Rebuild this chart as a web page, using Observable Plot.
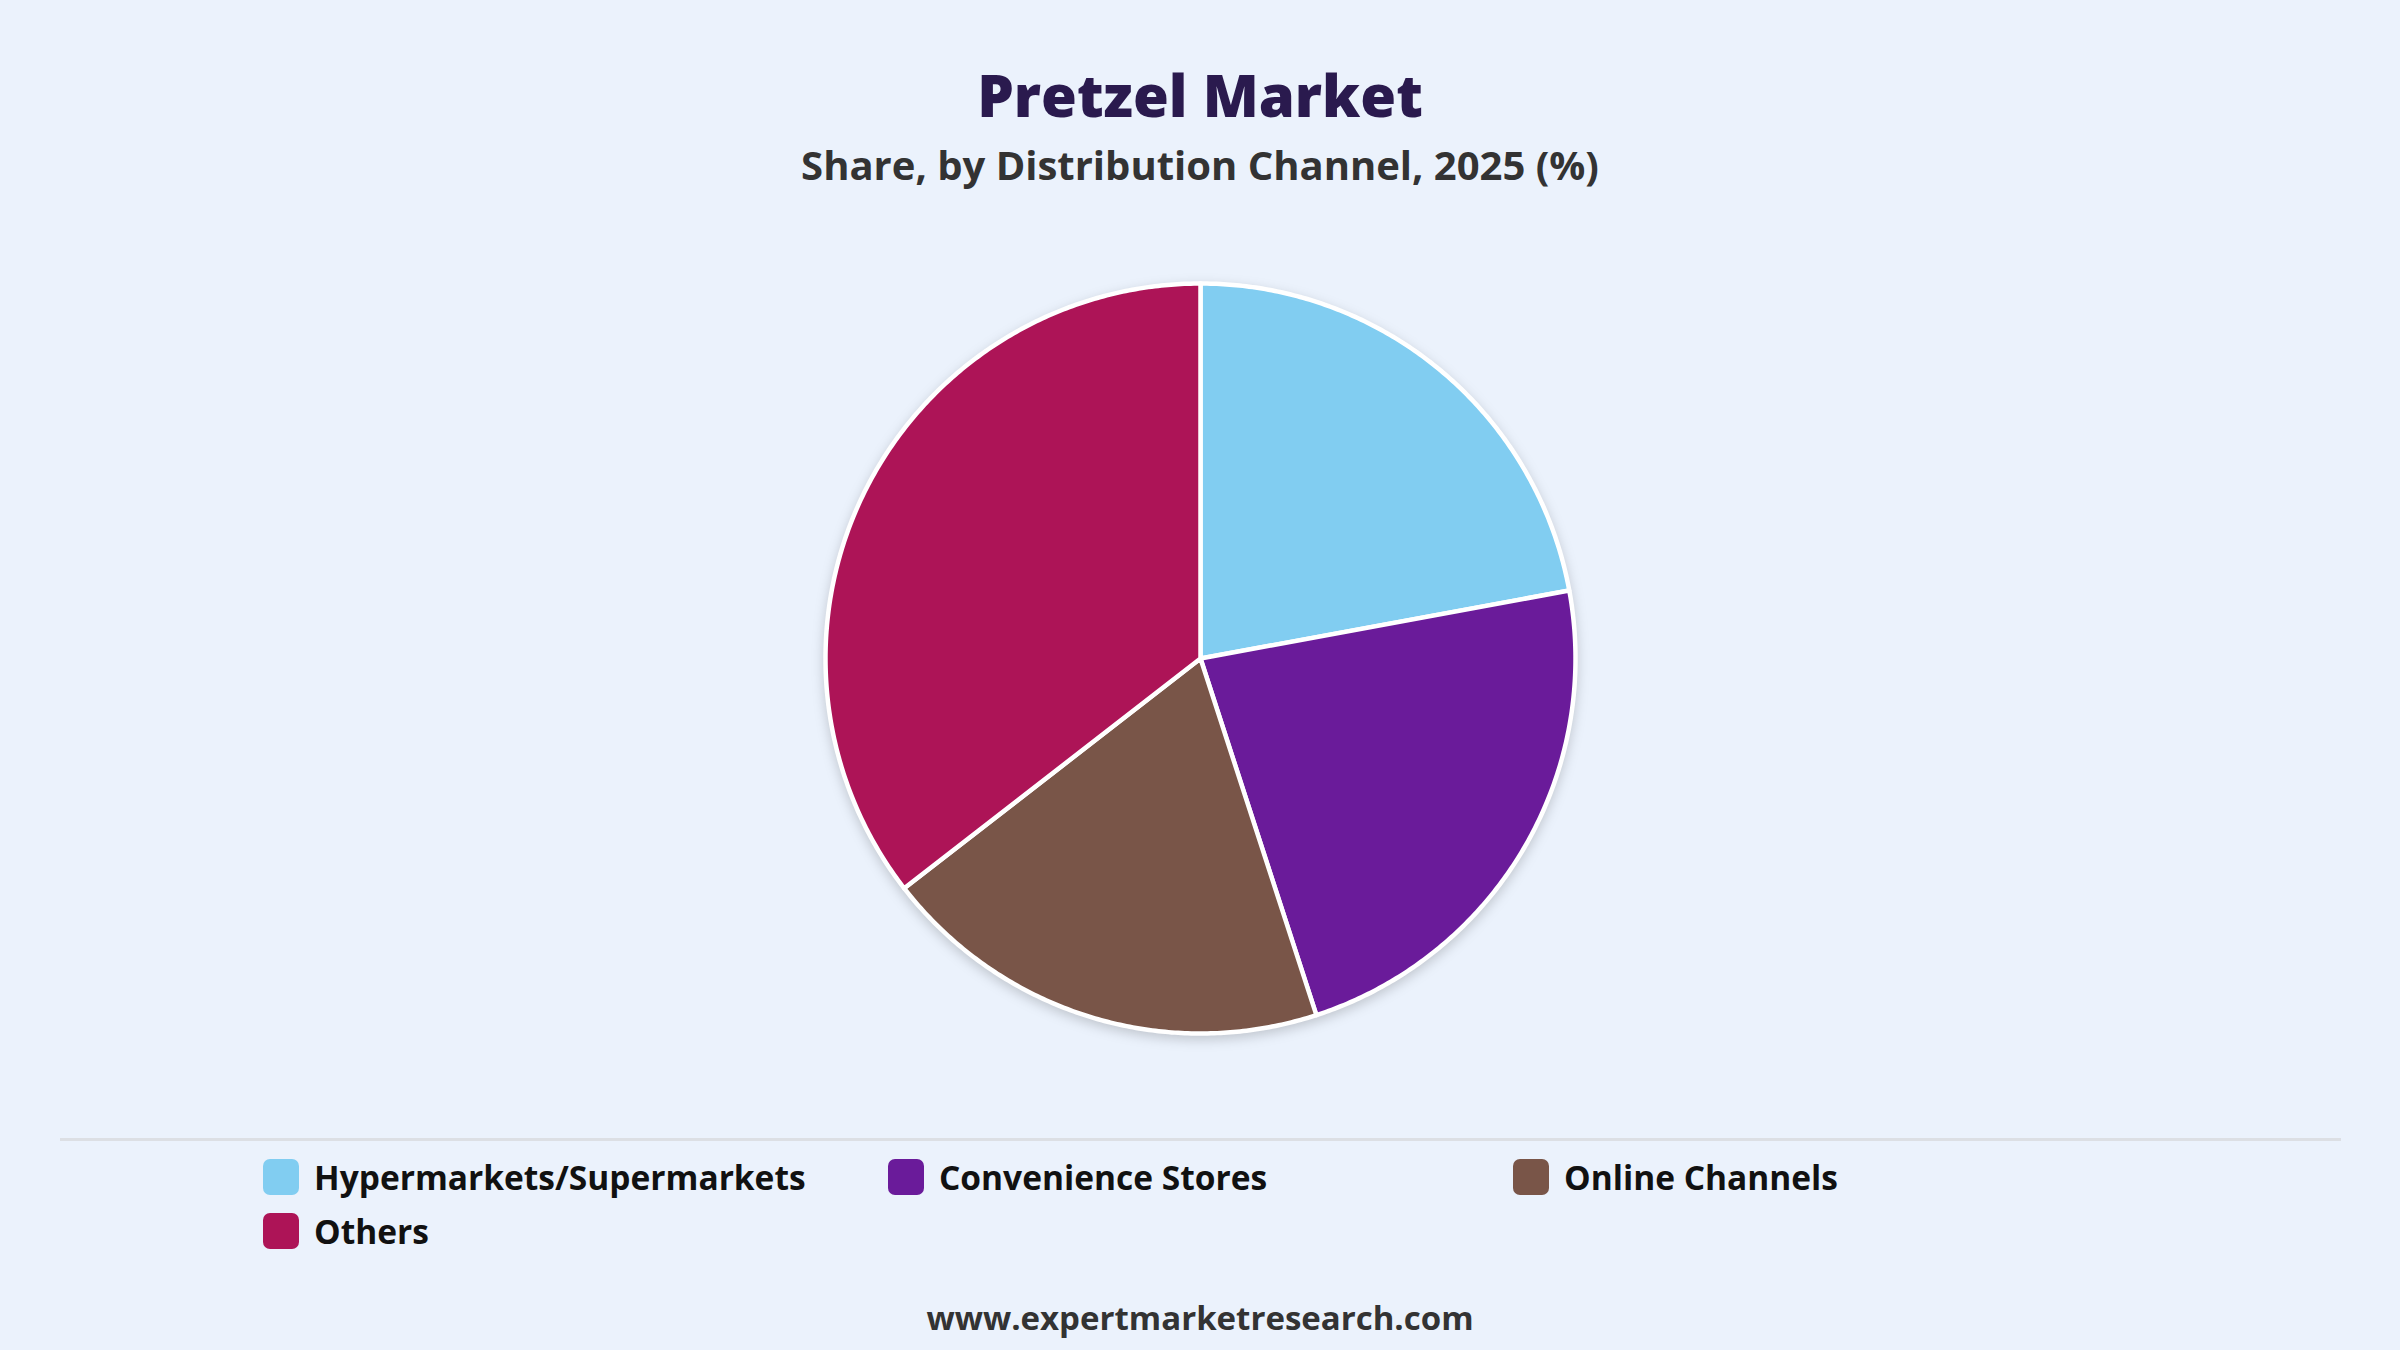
<!DOCTYPE html>
<html>
<head>
<meta charset="utf-8">
<script src="https://cdn.jsdelivr.net/npm/d3@7"></script>
<script src="https://cdn.jsdelivr.net/npm/@observablehq/plot@0.6"></script>
<style>
  html, body { margin: 0; padding: 0; }
  body { width: 2400px; height: 1350px; background: #EBF2FC; position: relative; overflow: hidden; font-family: "Open Sans", "Noto Sans", sans-serif; }
  #title { position: absolute; top: 66px; left: 0; width: 2400px; text-align: center; font-size: 58px; font-weight: 800; color: #2A1A4E; line-height: 1; }
  #subtitle { position: absolute; top: 145px; left: 0; width: 2400px; text-align: center; font-size: 40px; font-weight: 700; color: #333333; line-height: 1; }
  #chart { position: absolute; top: 258px; left: 800px; width: 800px; height: 800px; }
  #chart svg { overflow: visible; }
  #chart svg g[aria-label="line"] { filter: drop-shadow(0px 4px 6px rgba(0,0,0,0.18)); }
  #sep { position: absolute; top: 1138px; left: 60px; width: 2281px; height: 3px; background: #DCDFE4; }
  #legend { position: absolute; top: 1158px; left: 263px; width: 1900px; }
  .item { position: absolute; display: flex; align-items: center; height: 38px; }
  .sw { width: 36px; height: 36px; border-radius: 7px; margin-right: 15px; }
  .lbl { font-size: 33.5px; font-weight: 700; color: #111111; white-space: nowrap; }
  #footer { position: absolute; top: 1301px; left: 0; width: 2400px; text-align: center; font-size: 33px; font-weight: 700; color: #333333; line-height: 1; }
</style>
</head>
<body>
<div id="title">Pretzel Market</div>
<div id="subtitle">Share, by Distribution Channel, 2025 (%)</div>
<div id="chart"></div>
<div id="sep"></div>
<div id="legend"></div>
<div id="footer">www.expertmarketresearch.com</div>
<script>
const categories = ["Hypermarkets/Supermarkets", "Convenience Stores", "Online Channels", "Others"];
const shares = [22.1, 22.9, 19.5, 35.5];
const colors = ["#81CDF1", "#6A1B9A", "#795548", "#AD1457"];

const pie = d3.pie().sort(null).value(d => d.value)(categories.map((c, i) => ({category: c, value: shares[i]})));

// build slice outlines (center -> arc -> center) from pie angles
const pts = [];
for (const s of pie) {
  const steps = Math.max(2, Math.ceil((s.endAngle - s.startAngle) / (Math.PI / 360)));
  pts.push({category: s.data.category, x: 0, y: 0});
  for (let k = 0; k <= steps; k++) {
    const a = s.startAngle + (s.endAngle - s.startAngle) * k / steps;
    pts.push({category: s.data.category, x: Math.sin(a), y: Math.cos(a)});
  }
  pts.push({category: s.data.category, x: 0, y: 0});
}

const lim = 400 / 375;
const chart = Plot.plot({
  width: 800,
  height: 800,
  margin: 0,
  x: {domain: [-lim, lim], axis: null},
  y: {domain: [-lim, lim], axis: null},
  color: {domain: categories, range: colors},
  style: {background: "transparent", overflow: "visible"},
  marks: [
    Plot.line(pts, {x: "x", y: "y", z: "category", fill: "category", stroke: "white", strokeWidth: 4.5, strokeLinejoin: "round", curve: "linear"})
  ]
});
document.getElementById("chart").appendChild(chart);

const legend = document.getElementById("legend");
const colX = [0, 625, 1250];
categories.forEach((c, i) => {
  const it = document.createElement("div");
  it.className = "item";
  it.style.left = colX[i % 3] + "px";
  it.style.top = (Math.floor(i / 3) * 54) + "px";
  const sw = document.createElement("div");
  sw.className = "sw";
  sw.style.background = chart.scale("color").apply(c);
  const lb = document.createElement("div");
  lb.className = "lbl";
  lb.textContent = c;
  it.appendChild(sw); it.appendChild(lb);
  legend.appendChild(it);
});
</script>
</body>
</html>
